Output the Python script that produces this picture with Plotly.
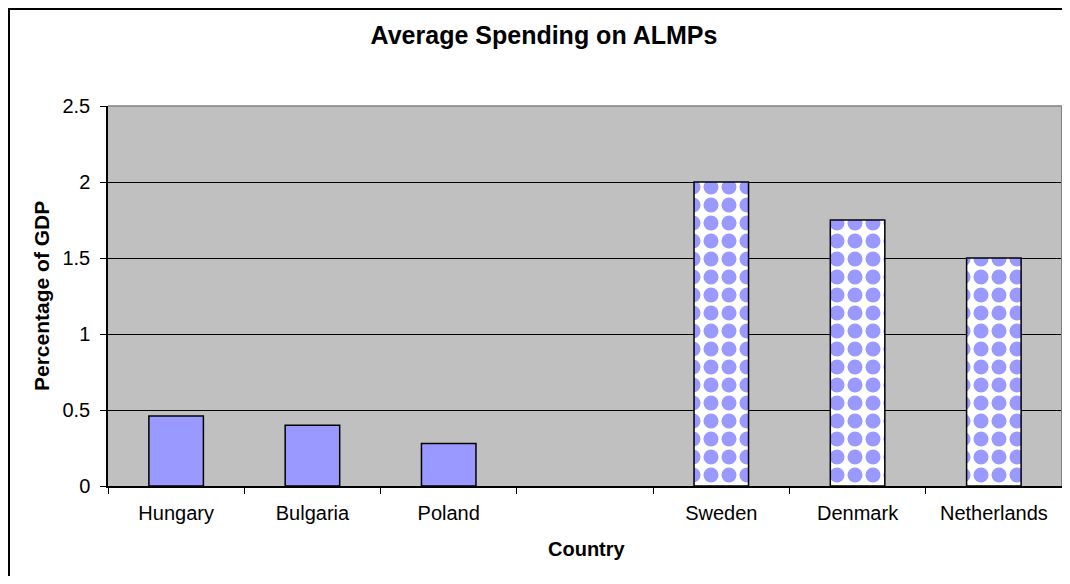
import plotly.graph_objects as go

categories = ["Hungary", "Bulgaria", "Poland", " ", "Sweden", "Denmark", "Netherlands"]
east_values = [0.46, 0.40, 0.28, None, None, None, None]
west_values = [None, None, None, None, 2.0, 1.75, 1.5]
y_ticks = [0, 0.5, 1, 1.5, 2, 2.5]
y_tick_labels = ["0", "0.5", "1", "1.5", "2", "2.5"]

FONT = "Arial, Liberation Sans, sans-serif"
BAR = "#9999FF"

# page body has an 8px margin, so the figure is sized to fit inside it
W, H = 1054, 568
ML, MR, MT, MB = 100, 0, 98, 90
PW = W - ML - MR
PH = H - MT - MB

fig = go.Figure()
fig.add_trace(go.Bar(
    x=categories, y=east_values, width=0.4,
    marker=dict(color=BAR, line=dict(color="black", width=1.5)),
    showlegend=False, hoverinfo="x+y",
))
fig.add_trace(go.Bar(
    x=categories, y=west_values, width=0.4,
    marker=dict(color=BAR, line=dict(color="black", width=1.5),
                pattern=dict(shape=".", bgcolor="white", fgcolor=BAR,
                             fgopacity=1, size=18, solidity=0.55, fillmode="replace")),
    showlegend=False, hoverinfo="x+y",
))

# outer chart border and plot area border (top/right)
fig.add_shape(type="rect", xref="paper", yref="paper",
              x0=(1 - ML) / PW, x1=1.3, y0=-0.5, y1=(PH + MT - 1) / PH,
              line=dict(color="black", width=2), fillcolor="rgba(0,0,0,0)", layer="above")
fig.add_shape(type="line", xref="paper", yref="paper", x0=0, x1=1, y0=1, y1=1,
              line=dict(color="#808080", width=1.5), layer="above")
fig.add_shape(type="line", xref="paper", yref="paper", x0=1, x1=1, y0=0, y1=1,
              line=dict(color="#808080", width=2), layer="above")

fig.add_annotation(text="<b>Percentage of GDP</b>", xref="paper", yref="paper",
                   x=0, y=0.5, xshift=-67, textangle=-90, showarrow=False,
                   xanchor="center", yanchor="middle",
                   font=dict(family=FONT, size=21, color="black"))
fig.add_annotation(text="<b>Country</b>", xref="paper", yref="paper",
                   x=0.5, y=0, xshift=2, yshift=-63, showarrow=False,
                   xanchor="center", yanchor="middle",
                   font=dict(family=FONT, size=20, color="black"))

fig.update_layout(
    width=W, height=H,
    margin=dict(l=ML, r=MR, t=MT, b=MB),
    paper_bgcolor="white", plot_bgcolor="#C0C0C0",
    barmode="overlay",
    title=dict(text="<b>Average Spending on ALMPs</b>", x=536 / W, y=1 - 27 / H,
               xanchor="center", yanchor="middle",
               font=dict(family=FONT, size=25, color="black")),
    font=dict(family=FONT, color="black"),
)
fig.update_xaxes(
    type="category", categoryorder="array", categoryarray=categories,
    showline=True, linecolor="black", linewidth=1.5,
    ticks="outside", ticklen=6, tickcolor="black", tickwidth=1,
    tickson="boundaries", ticklabelstandoff=8,
    showgrid=False, tickfont=dict(family=FONT, size=20, color="black"),
)
fig.update_yaxes(
    range=[0, 2.5], tickvals=y_ticks, ticktext=y_tick_labels,
    showline=True, linecolor="black", linewidth=1.5,
    ticks="outside", ticklen=6, tickcolor="black", tickwidth=1,
    ticklabelstandoff=6,
    showgrid=True, gridcolor="black", gridwidth=1, zeroline=False,
    tickfont=dict(family=FONT, size=20, color="black"),
)

fig.write_html("out.html")
